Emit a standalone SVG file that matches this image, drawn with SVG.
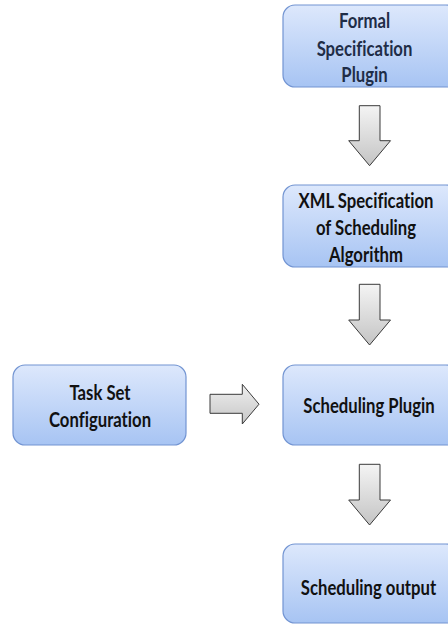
<svg xmlns="http://www.w3.org/2000/svg" width="448" height="624" viewBox="0 0 448 624">
<defs>
<linearGradient id="boxg" x1="0" y1="0" x2="0" y2="1">
<stop offset="0" stop-color="#dde8fc"/>
<stop offset="1" stop-color="#a7c4f3"/>
</linearGradient>
<linearGradient id="arrg" x1="0" y1="0" x2="0" y2="1">
<stop offset="0" stop-color="#f4f4f4"/>
<stop offset="1" stop-color="#c4c4c4"/>
</linearGradient>
<linearGradient id="arrh" x1="0" y1="0" x2="0" y2="1">
<stop offset="0" stop-color="#efefef"/>
<stop offset="1" stop-color="#c6c6c6"/>
</linearGradient>
</defs>
<style>
.box{fill:url(#boxg);stroke:#7294d2;stroke-width:1.2}
.arr{fill:url(#arrg);stroke:#3a3a3a;stroke-width:1;stroke-linejoin:miter}
.t{font-family:Lato,"Open Sans",sans-serif;font-weight:700;font-size:16.7px;text-anchor:middle;fill:#111;font-variant-ligatures:none}
.t1{fill:#1f2d47}
</style>
<g id="connectors">
<path class="arr" d="M359.3,105.7 H380 V140.7 H390.5 L369.6,165.7 L348.7,140.7 H359.3 Z"/>
<path class="arr" d="M359.3,284.3 H380 V320 H390.5 L369.6,345 L348.7,320 H359.3 Z"/>
<path class="arr" d="M359.3,464.3 H380 V500 H390.5 L369.6,525 L348.7,500 H359.3 Z"/>
<path class="arr" style="fill:url(#arrh)" d="M210,394.3 H242.3 V384.3 L259,404.2 L242.3,424 V413.3 H210 Z"/>
</g>
<g id="formal-spec">
<rect class="box" x="283" y="5" width="175" height="82" rx="12"/>
<text class="t t1" transform="translate(364.5,28.3) scale(1,1.25)">Formal</text>
<text class="t t1" transform="translate(364.5,56) scale(1,1.25)">Specification</text>
<text class="t t1" transform="translate(364.5,81.7) scale(1,1.25)">Plugin</text>
</g>
<g id="xml-spec">
<rect class="box" x="283" y="185" width="175" height="82" rx="12"/>
<text class="t" transform="translate(366,208.3) scale(1,1.25)">XML Specification</text>
<text class="t" transform="translate(366,235) scale(1,1.25)">of Scheduling</text>
<text class="t" transform="translate(366,261.7) scale(1,1.25)">Algorithm</text>
</g>
<g id="task-set">
<rect class="box" x="13" y="365" width="173" height="80" rx="12"/>
<text class="t" transform="translate(100,400) scale(1,1.25)">Task Set</text>
<text class="t" transform="translate(100,426.7) scale(1,1.25)">Configuration</text>
</g>
<g id="scheduling-plugin">
<rect class="box" x="283" y="365" width="175" height="80" rx="12"/>
<text class="t" transform="translate(369,412.7) scale(1,1.25)">Scheduling Plugin</text>
</g>
<g id="scheduling-output">
<rect class="box" x="283" y="544" width="175" height="79" rx="12"/>
<text class="t" transform="translate(368.5,595) scale(1,1.25)">Scheduling output</text>
</g>
</svg>
